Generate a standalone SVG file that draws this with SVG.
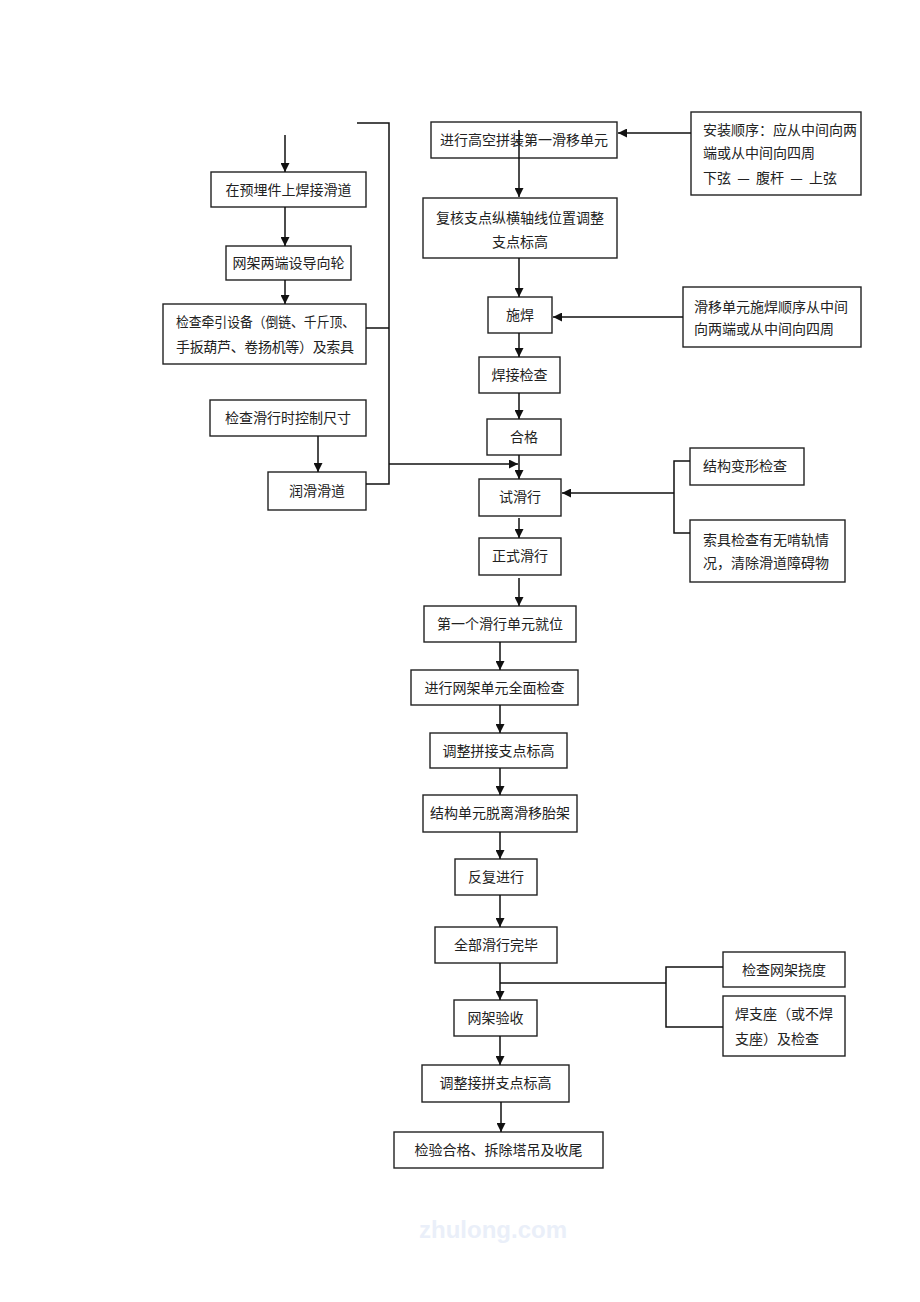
<svg xmlns="http://www.w3.org/2000/svg" width="920" height="1302" viewBox="0 0 920 1302">
<style>
.box{fill:#fff;stroke:#222;stroke-width:1.4}
.ln{fill:none;stroke:#111;stroke-width:1.5}
.ar{fill:none;stroke:#111;stroke-width:1.5;marker-end:url(#arr)}
text{font-family:"Noto Sans CJK SC","Noto Sans",sans-serif;font-size:14px;fill:#222}
.c{text-anchor:middle}
.wm{font-family:"Liberation Sans",sans-serif;font-size:24px;fill:#eaeff9;text-anchor:middle;font-weight:bold}
</style>
<defs>
<marker id="arr" viewBox="0 0 10 10" refX="10" refY="5" markerWidth="9" markerHeight="9" markerUnits="userSpaceOnUse" orient="auto">
<path d="M0,0 L10,5 L0,10 z" fill="#111"/>
</marker>
</defs>
<rect width="920" height="1302" fill="#fff"/>

<g id="n1"><rect class="box" x="211" y="172" width="155" height="35"/><text class="c" x="288.5" y="194.5">在预埋件上焊接滑道</text></g>
<g id="n2"><rect class="box" x="226" y="246" width="125" height="34"/><text class="c" x="288.5" y="268">网架两端设导向轮</text></g>
<g id="n3"><rect class="box" x="163" y="304" width="203" height="60"/><text x="176" y="327" textLength="179" lengthAdjust="spacingAndGlyphs">检查牵引设备（倒链、千斤顶、</text><text x="176" y="352" textLength="178" lengthAdjust="spacing">手扳葫芦、卷扬机等）及索具</text></g>
<g id="n4"><rect class="box" x="210" y="400" width="156" height="36"/><text class="c" x="288" y="423">检查滑行时控制尺寸</text></g>
<g id="n5"><rect class="box" x="268" y="472" width="98" height="38"/><text class="c" x="317" y="496">润滑滑道</text></g>

<g id="r1"><rect class="box" x="431" y="122" width="186" height="36"/><text class="c" x="524" y="145">进行高空拼装第一滑移单元</text></g>
<g id="r2"><rect class="box" x="691" y="112" width="170" height="83"/><text x="703" y="135">安装顺序：应从中间向两</text><text x="703" y="158">端或从中间向四周</text><text x="703" y="183" xml:space="preserve">下弦  —  腹杆  —  上弦</text></g>
<g id="r3"><rect class="box" x="423" y="198" width="194" height="60"/><text class="c" x="520" y="223">复核支点纵横轴线位置调整</text><text class="c" x="520" y="247">支点标高</text></g>
<g id="r4"><rect class="box" x="488" y="297" width="64" height="36"/><text class="c" x="520" y="320">施焊</text></g>
<g id="r5"><rect class="box" x="683" y="287" width="178" height="60"/><text x="694" y="312">滑移单元施焊顺序从中间</text><text x="694" y="334">向两端或从中间向四周</text></g>
<g id="r6"><rect class="box" x="479" y="357" width="81" height="36"/><text class="c" x="519.5" y="380">焊接检查</text></g>
<g id="r7"><rect class="box" x="487" y="419" width="74" height="36"/><text class="c" x="524" y="442">合格</text></g>
<g id="r8"><rect class="box" x="479" y="479" width="82" height="37"/><text class="c" x="520" y="502">试滑行</text></g>
<g id="r9"><rect class="box" x="690" y="448" width="114" height="37"/><text x="703" y="471">结构变形检查</text></g>
<g id="r10"><rect class="box" x="690" y="520" width="155" height="62"/><text x="703" y="545">索具检查有无啃轨情</text><text x="703" y="568">况，清除滑道障碍物</text></g>
<g id="r11"><rect class="box" x="479" y="538" width="82" height="37"/><text class="c" x="520" y="561">正式滑行</text></g>
<g id="r12"><rect class="box" x="424" y="606" width="152" height="36"/><text class="c" x="500" y="629">第一个滑行单元就位</text></g>
<g id="r13"><rect class="box" x="411" y="670" width="167" height="35"/><text class="c" x="494.5" y="692.5">进行网架单元全面检查</text></g>
<g id="r14"><rect class="box" x="430" y="733" width="137" height="35"/><text class="c" x="498.5" y="755.5">调整拼接支点标高</text></g>
<g id="r15"><rect class="box" x="423" y="795" width="154" height="37"/><text class="c" x="500" y="818">结构单元脱离滑移胎架</text></g>
<g id="r16"><rect class="box" x="455" y="859" width="82" height="36"/><text class="c" x="496" y="882">反复进行</text></g>
<g id="r17"><rect class="box" x="435" y="927" width="122" height="36"/><text class="c" x="496" y="950">全部滑行完毕</text></g>
<g id="r18"><rect class="box" x="723" y="952" width="122" height="35"/><text class="c" x="784" y="974.5">检查网架挠度</text></g>
<g id="r19"><rect class="box" x="723" y="996" width="122" height="60"/><text x="735" y="1019">焊支座（或不焊</text><text x="735" y="1044">支座）及检查</text></g>
<g id="r20"><rect class="box" x="454" y="1000" width="83" height="36"/><text class="c" x="495.5" y="1023">网架验收</text></g>
<g id="r21"><rect class="box" x="422" y="1065" width="147" height="37"/><text class="c" x="495.5" y="1088">调整接拼支点标高</text></g>
<g id="r22"><rect class="box" x="394" y="1132" width="209" height="36"/><text class="c" x="498.5" y="1155">检验合格、拆除塔吊及收尾</text></g>

<g id="connectors">
<line class="ar" x1="285" y1="135" x2="285" y2="172"/>
<line class="ar" x1="285" y1="207" x2="285" y2="246"/>
<line class="ar" x1="285" y1="280" x2="285" y2="304"/>
<line class="ar" x1="318" y1="436" x2="318" y2="472"/>
<polyline class="ln" points="357,123 389,123 389,484 366,484"/>
<line class="ln" x1="366" y1="328" x2="389" y2="328"/>
<line class="ar" x1="389" y1="464" x2="518" y2="464"/>

<line class="ar" x1="519" y1="130" x2="519" y2="197"/>
<line class="ar" x1="691" y1="133" x2="618" y2="133"/>
<line class="ar" x1="519" y1="258" x2="519" y2="297"/>
<line class="ar" x1="683" y1="317" x2="553" y2="317"/>
<line class="ar" x1="519" y1="333" x2="519" y2="357"/>
<line class="ar" x1="519" y1="393" x2="519" y2="419"/>
<line class="ar" x1="519" y1="455" x2="519" y2="479"/>
<polyline class="ln" points="690,461 674,461 674,533 690,533"/>
<line class="ar" x1="674" y1="493" x2="562" y2="493"/>
<line class="ar" x1="519" y1="518" x2="519" y2="538"/>
<line class="ar" x1="519" y1="578" x2="519" y2="606"/>
<line class="ar" x1="500" y1="642" x2="500" y2="670"/>
<line class="ar" x1="500" y1="705" x2="500" y2="733"/>
<line class="ar" x1="500" y1="768" x2="500" y2="795"/>
<line class="ar" x1="500" y1="832" x2="500" y2="859"/>
<line class="ar" x1="500" y1="895" x2="500" y2="927"/>
<line class="ar" x1="500" y1="963" x2="500" y2="1000"/>
<polyline class="ln" points="500,983 666,983"/>
<polyline class="ln" points="723,967 666,967 666,1027 723,1027"/>
<line class="ar" x1="500" y1="1036" x2="500" y2="1065"/>
<line class="ar" x1="501" y1="1102" x2="501" y2="1132"/>
</g>

<text class="wm" x="493" y="1238">zhulong.com</text>
</svg>
